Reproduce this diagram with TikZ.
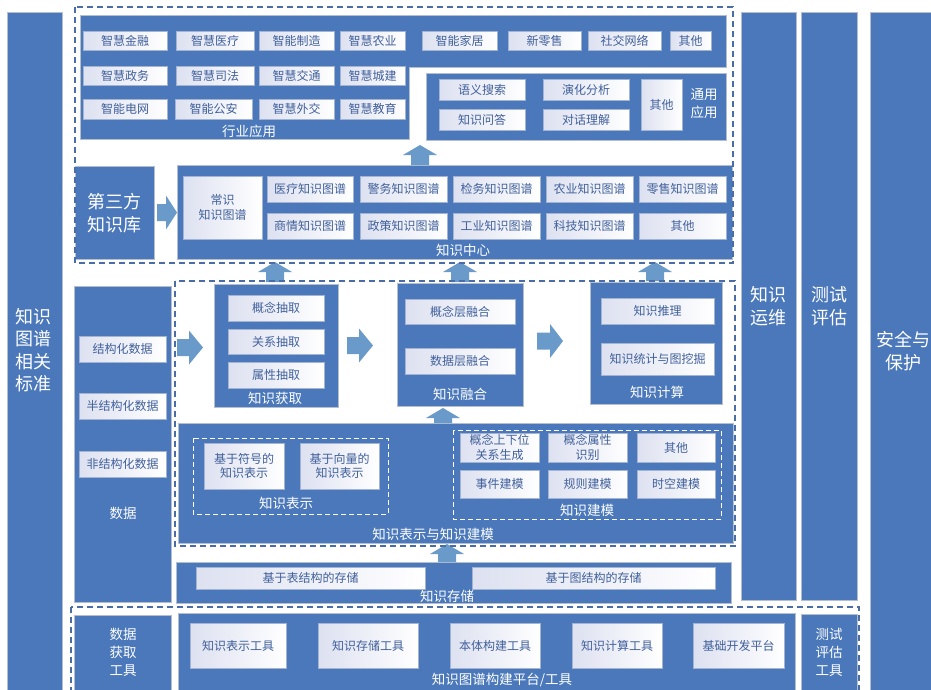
\documentclass[tikz,border=0pt]{standalone}
\usepackage{fontspec}
\setmainfont{Noto Sans CJK SC}
\definecolor{kblue}{HTML}{4A78BA}
\definecolor{kedge}{HTML}{B3BFCF}
\definecolor{btxt}{HTML}{40609C}
\definecolor{bedge}{HTML}{A3B4D2}
\definecolor{bgrad}{HTML}{DDE1F0}
\definecolor{karr}{HTML}{6A9AC9}
\definecolor{kdash}{HTML}{4A6DA8}
\tikzset{
 blk/.style={fill=kblue, draw=kedge, line width=0.8pt, inner sep=0pt, outer sep=0pt},
 btn/.style={left color=bgrad, right color=white, draw=bedge, line width=0.6pt, text=btxt, font=\fontsize{12}{14.5}\selectfont, inner sep=0pt, outer sep=0pt, align=center},
 wtxt/.style={text=white, font=\fontsize{13.5}{18}\selectfont, inner sep=0pt, align=center},
 bigtxt/.style={text=white, font=\fontsize{18}{22.5}\selectfont, inner sep=0pt, align=center},
 odash/.style={draw=kdash, line width=1.1pt, dash pattern=on 6pt off 4pt},
 idash/.style={draw=white, line width=1pt, dash pattern=on 5pt off 3pt},
 arr/.style={fill=karr, draw=none},
}
% box: name, x1, y1, x2, y2, style, text
\newcommand\bx[7]{\node[#6, minimum width={(#4)-(#2)}, minimum height={(#5)-(#3)}] (#1) at ({((#2)+(#4))/2},{((#3)+(#5))/2}) {#7};}
% up block arrow: xc, ytip, ybase
\newcommand\uparr[3]{\fill[arr] (#1-9,#3) -- (#1-9,#2+10) -- (#1-17,#2+10) -- (#1,#2) -- (#1+17,#2+10) -- (#1+9,#2+10) -- (#1+9,#3) -- cycle;}
% right block arrow: xbase, xtip, yc, headlen
\newcommand\rtarr[4]{\fill[arr] (#1,#3-8.5) -- (#2-#4,#3-8.5) -- (#2-#4,#3-17) -- (#2,#3) -- (#2-#4,#3+17) -- (#2-#4,#3+8.5) -- (#1,#3+8.5) -- cycle;}
\begin{document}
\begin{tikzpicture}[x=1pt,y=-1pt]
\useasboundingbox (0,0) rectangle (931,689);
\fill[white] (0,0) rectangle (931,689);

% ---------- side columns ----------
\bx{std}{7}{12}{62}{692}{blk}{}
\node[bigtxt] (stdt) at (34,350) {知识\\图谱\\相关\\标准};
\bx{ops}{741}{12}{796}{600}{blk}{}
\node[bigtxt] (opst) at (768,306) {知识\\运维};
\bx{tst}{801}{12}{857}{600}{blk}{}
\node[bigtxt] (tstt) at (829,306) {测试\\评估};
\bx{sec}{870}{12}{935}{692}{blk}{}
\node[bigtxt] (sect) at (903,351) {安全与\\保护};

% ---------- industry application ----------
\fill[kblue, draw=kedge, line width=0.8pt] (80,15) -- (726,15) -- (726,67) -- (409,67) -- (409,139) -- (80,139) -- cycle;
\node[wtxt] (hyl) at (249,131) {行业应用};
\bx{h1}{83}{31}{167}{50}{btn}{智慧金融}
\bx{h2}{176}{31}{254}{50}{btn}{智慧医疗}
\bx{h3}{259}{31}{334}{50}{btn}{智能制造}
\bx{h4}{340}{31}{405}{50}{btn}{智慧农业}
\bx{h5}{422}{31}{497}{50}{btn}{智能家居}
\bx{h6}{508}{31}{581}{50}{btn}{新零售}
\bx{h7}{588}{31}{661}{50}{btn}{社交网络}
\bx{h8}{670}{31}{711}{50}{btn}{其他}
\bx{h9}{83}{66}{167}{85}{btn}{智慧政务}
\bx{h10}{176}{66}{254}{85}{btn}{智慧司法}
\bx{h11}{259}{66}{334}{85}{btn}{智慧交通}
\bx{h12}{340}{66}{405}{85}{btn}{智慧城建}
\bx{h13}{83}{99}{167}{119}{btn}{智能电网}
\bx{h14}{175}{99}{252}{119}{btn}{智能公安}
\bx{h15}{259}{99}{334}{119}{btn}{智慧外交}
\bx{h16}{340}{99}{405}{119}{btn}{智慧教育}

% ---------- general application ----------
\bx{ty}{426}{73}{726}{140}{blk}{}
\node[wtxt] (tyl) at (704,104) {通用\\应用};
\bx{g1}{439}{79}{525}{100}{btn}{语义搜索}
\bx{g2}{543}{79}{629}{100}{btn}{演化分析}
\bx{g3}{439}{109}{525}{130}{btn}{知识问答}
\bx{g4}{543}{109}{629}{130}{btn}{对话理解}
\bx{g5}{641}{79}{682}{130}{btn}{其他}

% ---------- third party & knowledge center ----------
\bx{tp}{75}{166}{154}{259}{blk}{}
\node[bigtxt] (tpt) at (114,213) {第三方\\知识库};
\bx{kc}{177}{165}{732}{259}{blk}{}
\node[wtxt] (kcl) at (463,250) {知识中心};
\bx{c0}{183}{176}{262}{239}{btn}{常识\\知识图谱}
\bx{c1}{267}{176}{353}{202}{btn}{医疗知识图谱}
\bx{c2}{360}{176}{447}{202}{btn}{警务知识图谱}
\bx{c3}{453}{176}{540}{202}{btn}{检务知识图谱}
\bx{c4}{546}{176}{633}{202}{btn}{农业知识图谱}
\bx{c5}{639}{176}{726}{202}{btn}{零售知识图谱}
\bx{c6}{267}{213}{353}{239}{btn}{商情知识图谱}
\bx{c7}{360}{213}{447}{239}{btn}{政策知识图谱}
\bx{c8}{453}{213}{540}{239}{btn}{工业知识图谱}
\bx{c9}{546}{213}{633}{239}{btn}{科技知识图谱}
\bx{c10}{639}{213}{726}{239}{btn}{其他}

% ---------- data ----------
\bx{dat}{74}{286}{171}{602}{blk}{}
\node[wtxt] (datl) at (123,513) {数据};
\bx{d1}{79}{336}{166}{362}{btn}{结构化数据}
\bx{d2}{79}{393}{166}{419}{btn}{半结构化数据}
\bx{d3}{79}{451}{166}{477}{btn}{非结构化数据}

% ---------- acquisition / fusion / computation ----------
\bx{acq}{214}{284}{338}{407}{blk}{}
\node[wtxt] (acql) at (275,398) {知识获取};
\bx{a1}{228}{295}{324}{321}{btn}{概念抽取}
\bx{a2}{228}{329}{324}{354}{btn}{关系抽取}
\bx{a3}{228}{362}{324}{388}{btn}{属性抽取}
\bx{fus}{397}{283}{523}{406}{blk}{}
\node[wtxt] (fusl) at (460,394) {知识融合};
\bx{f1}{405}{299}{515}{324}{btn}{概念层融合}
\bx{f2}{405}{348}{515}{374}{btn}{数据层融合}
\bx{cmp}{590}{282}{722}{404}{blk}{}
\node[wtxt] (cmpl) at (657,392) {知识计算};
\bx{m1}{601}{298}{714}{324}{btn}{知识推理}
\bx{m2}{601}{343}{714}{375}{btn}{知识统计与图挖掘}

% ---------- representation & modeling ----------
\bx{rep}{178}{423}{733}{543}{blk}{}
\node[wtxt] (repl) at (433,534) {知识表示与知识建模};
\draw[idash] (193,438) rectangle (388,514);
\node[wtxt] (rpl) at (286,503) {知识表示};
\bx{r1}{204}{443}{284}{489}{btn}{基于符号的\\知识表示}
\bx{r2}{300}{443}{379}{489}{btn}{基于向量的\\知识表示}
\draw[idash] (453,430) rectangle (721,519);
\node[wtxt] (mdl) at (587,510) {知识建模};
\bx{e1}{460}{433}{539}{462}{btn}{概念上下位\\关系生成}
\bx{e2}{548}{433}{627}{462}{btn}{概念属性\\识别}
\bx{e3}{637}{433}{715}{462}{btn}{其他}
\bx{e4}{460}{470}{539}{498}{btn}{事件建模}
\bx{e5}{548}{470}{627}{498}{btn}{规则建模}
\bx{e6}{637}{470}{715}{498}{btn}{时空建模}

% ---------- storage ----------
\bx{sto}{176}{562}{731}{603}{blk}{}
\node[wtxt] (stol) at (447,596) {知识存储};
\bx{s1}{196}{567}{425}{589}{btn}{基于表结构的存储}
\bx{s2}{472}{567}{715}{589}{btn}{基于图结构的存储}

% ---------- tools ----------
\bx{dtool}{74}{615}{171}{692}{blk}{}
\node[wtxt] (dtoolt) at (123,652) {数据\\获取\\工具};
\bx{plat}{178}{613}{795}{692}{blk}{}
\node[wtxt] (platl) at (502,680) {知识图谱构建平台/工具};
\bx{t1}{190}{623}{286}{668}{btn}{知识表示工具}
\bx{t2}{318}{623}{418}{668}{btn}{知识存储工具}
\bx{t3}{450}{623}{540}{668}{btn}{本体构建工具}
\bx{t4}{572}{623}{662}{668}{btn}{知识计算工具}
\bx{t5}{693}{623}{784}{668}{btn}{基础开发平台}
\bx{ttool}{801}{614}{857}{692}{blk}{}
\node[wtxt] (ttoolt) at (829,652) {测试\\评估\\工具};

% ---------- block arrows ----------
\uparr{420}{145}{165}
\uparr{275}{262}{282}
\uparr{460}{262}{282}
\uparr{655}{262}{281}
\uparr{443}{408}{423}
\uparr{447}{544}{562}
\rtarr{157}{177}{212.5}{11}
\rtarr{177}{203}{347.5}{14}
\rtarr{347}{373}{345.5}{14}
\rtarr{537}{563}{341}{13}

% ---------- dashed groups ----------
\draw[odash] (75,7) rectangle (733,263);
\draw[odash] (175,281) rectangle (735,546);
\draw[odash] (71,607) rectangle (859,695);
\end{tikzpicture}
\end{document}
